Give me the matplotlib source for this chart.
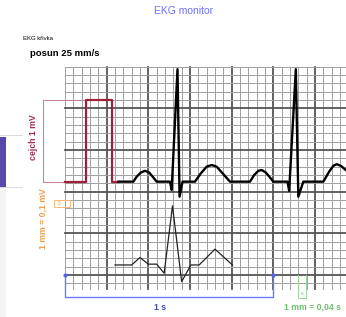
import numpy as np
import matplotlib
matplotlib.use("Agg")
import matplotlib.pyplot as plt
from matplotlib.patches import Rectangle

plt.rcParams['font.family'] = ['Liberation Sans', 'DejaVu Sans']

# grid size in mm (1 small square = 1 mm)
grid_w = 34
grid_h = 26
major_x = [5, 10, 15, 20, 25, 30]
major_y = [1, 6, 11, 16, 21]

# calibration pulse (1 mV)
cal_x = [0, 2.5, 2.5, 5.6, 5.6, 6.4]
cal_y = [12.2, 12.2, 22.0, 22.0, 12.2, 12.2]

# upper trace, 25 mm/s
ecg_x = [6.4, 8.2, 8.6, 9.1, 9.6, 10.1, 10.6, 11.0, 12.6, 12.8, 13.5, 13.75, 14.1,
         15.6, 16.3, 17.0, 17.6, 18.2, 19.0, 19.8, 22.2, 22.7, 23.2, 23.6, 24.1, 24.6, 25.0,
         26.7, 26.9, 27.7, 28.0, 28.6, 31.0, 31.7, 32.2, 32.6, 33.1, 33.7]
ecg_y = [12.2, 12.2, 12.8, 13.3, 13.5, 13.3, 12.7, 12.2, 12.2, 11.2, 25.7, 10.4, 12.2,
         12.2, 13.2, 14.0, 14.2, 14.0, 13.1, 12.2, 12.2, 13.0, 13.5, 13.6, 13.3, 12.7, 12.2,
         12.2, 11.1, 25.7, 10.4, 12.2, 12.2, 13.4, 14.1, 14.3, 14.1, 13.6]

# lower trace (one beat, enlarged)
beat_x = [6.0, 8.0, 9.0, 10.0, 11.0, 11.9, 12.9, 14.0, 15.1, 16.1, 18.0, 20.1]
beat_y = [2.2, 2.2, 3.1, 2.3, 2.3, 1.2, 9.3, 0.2, 2.2, 2.2, 4.1, 2.2]

W, H = 346, 317
fig = plt.figure(figsize=(W / 100, H / 100), dpi=100)

def fx(px):
    return px / W

def fy(py):
    return 1 - py / H

x0, x1, y0, y1 = 65, 346, 66.7, 283.3
ax = fig.add_axes([fx(x0), fy(y1), fx(x1) - fx(x0), fy(y0) - fy(y1)])
ax.set_xlim(0, (x1 - x0) / 8.333)
ax.set_ylim(0, grid_h)
ax.axis('off')

# grid
for i in range(grid_w + 1):
    major = i in major_x
    ax.plot([i, i], [-0.7, grid_h], color='#555555' if major else '#a0a0a0',
            lw=1.3 if major else 0.7, zorder=1, clip_on=False)
for j in range(grid_h + 1):
    major = j in major_y
    ax.plot([0, grid_w], [j, j], color='#555555' if major else '#a0a0a0',
            lw=1.3 if major else 0.7, zorder=1, clip_on=False)

# calibration box and pulse
ax.add_patch(Rectangle((-2.7, 12.2), 5.2, 9.8, fill=False, ec='#c48898', lw=0.8,
                       clip_on=False, zorder=2))
ax.plot(cal_x, cal_y, color='#a0203c', lw=1.6, zorder=3, clip_on=False)
ax.plot(ecg_x, ecg_y, color='black', lw=1.7, zorder=3, solid_joinstyle='round')
ax.plot(beat_x, beat_y, color='#222222', lw=0.9, zorder=3)

# 1 mm = 0,1 mV marker
ax.add_patch(Rectangle((-1.3, 9.2), 1.9, 0.8, fill=False, ec='#f5b878', lw=0.7,
                       clip_on=False, zorder=2))
ax.text(-0.75, 9.6, '5', color='#f0a050', fontsize=3.5, ha='center', va='center',
        clip_on=False)

# 1 s bracket
ax.plot([0, 0, 25, 25], [1, -1.7, -1.7, 1], color='#6a7aff', lw=1.0, clip_on=False, zorder=4)
ax.plot([0, 25], [1, 1], 'o', color='#5566ee', ms=2, clip_on=False, zorder=4)

# 1 mm = 0,04 s marker
ax.plot([28.0, 28.0, 28.9, 28.9], [1, -1.8, -1.8, 1], color='#9ad49a', lw=0.7,
        clip_on=False, zorder=4)
ax.text(28.45, -1.2, 's', color='#70c070', fontsize=4, ha='center', va='center',
        clip_on=False)

# texts
fig.text(fx(184), fy(11), 'EKG monitor', color='#6f6fff', fontsize=7.5,
         ha='center', va='center')
fig.text(fx(23), fy(39), 'EKG křivka', color='black', fontsize=4.3,
         ha='left', va='center')
fig.text(fx(30), fy(54), 'posun 25 mm/s', color='black', fontsize=6.8,
         fontweight='bold', ha='left', va='center')
fig.text(fx(33), fy(137), 'cejch 1 mV', color='#a03050', fontsize=6.3,
         fontweight='bold', rotation=90, ha='center', va='center')
fig.text(fx(43), fy(219), '1 mm = 0,1 mV', color='#f0a050', fontsize=6.3,
         fontweight='bold', rotation=90, ha='center', va='center')
fig.text(fx(160), fy(308), '1 s', color='#4050b0', fontsize=6.3,
         fontweight='bold', ha='center', va='center')
fig.text(fx(312), fy(307), '1 mm = 0,04 s', color='#70c070', fontsize=6.3,
         fontweight='bold', ha='center', va='center')

# left side panel bits
fig.add_artist(Rectangle((0, fy(187)), fx(6), fy(137) - fy(187),
                         transform=fig.transFigure, color='#5a48a8', lw=0))
fig.add_artist(Rectangle((0, 0), fx(6), fy(187),
                         transform=fig.transFigure, color='#f4f4f7', lw=0))
for yy in (135, 187):
    fig.add_artist(plt.Line2D([0, fx(22)], [fy(yy), fy(yy)], transform=fig.transFigure,
                              color='#d8d8dc', lw=0.7))

fig.savefig('out.png', dpi=100)
